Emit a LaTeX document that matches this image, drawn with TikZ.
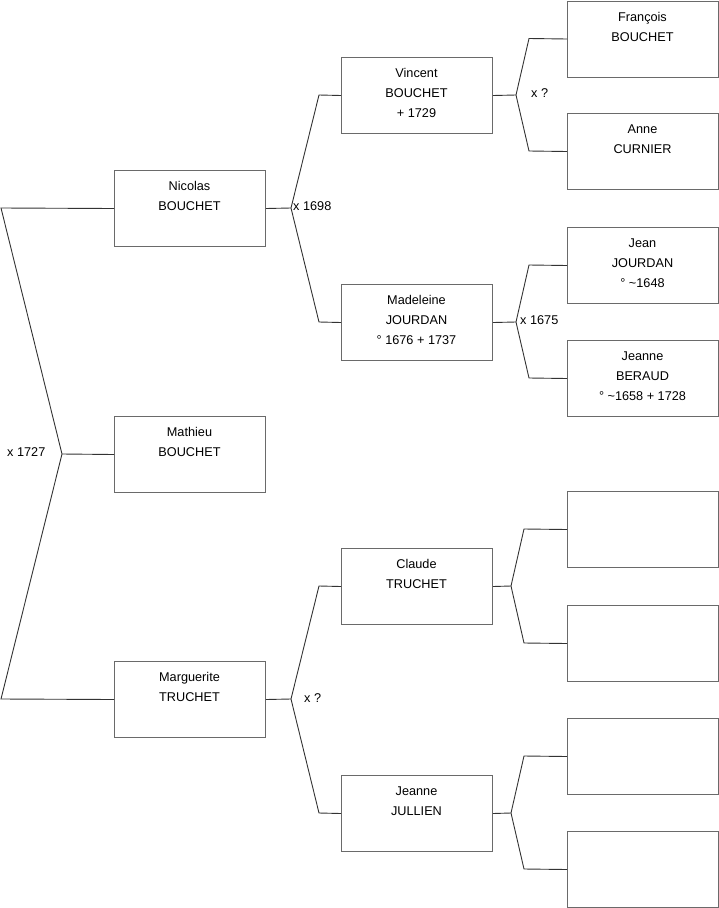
\documentclass[tikz,border=0pt]{standalone}
\usepackage{fontspec}
\setmainfont{Liberation Sans}
\definecolor{boxline}{HTML}{6A6A6A}
\definecolor{conline}{HTML}{333333}
\tikzset{
  pbox/.style={draw=boxline, line width=1pt, minimum width=151pt, minimum height=76pt, inner sep=0pt, anchor=north west, fill=white},
  ptxt/.style={anchor=base, inner sep=0pt, font=\fontsize{12.7}{15}\selectfont},
  mlabel/.style={anchor=base west, inner sep=0pt, font=\fontsize{12.7}{15}\selectfont},
  con/.style={draw=conline, line width=0.9pt}
}
\newcommand\person[6]{%
  \node[pbox] (#1) at (#2,#3) {};
  \node[ptxt] at ({#2+75.5},{#3+20.5}) {#4};
  \node[ptxt] at ({#2+75.5},{#3+40.5}) {#5};
  \node[ptxt] at ({#2+75.5},{#3+60.5}) {#6};
}
\begin{document}
\begin{tikzpicture}[x=1pt,y=-1pt]
\useasboundingbox (0,0) rectangle (719,908);
% generation 1
\person{nicolas}{114}{170}{Nicolas}{BOUCHET}{}
\person{mathieu}{114}{416}{Mathieu}{BOUCHET}{}
\person{marguerite}{114}{661}{Marguerite}{TRUCHET}{}
% generation 2
\person{vincent}{341}{57}{Vincent}{BOUCHET}{+ 1729}
\person{madeleine}{341}{284}{Madeleine}{JOURDAN}{° 1676 + 1737}
\person{claude}{341}{548}{Claude}{TRUCHET}{}
\person{jullien}{341}{775}{Jeanne}{JULLIEN}{}
% generation 3
\person{francois}{567}{0.5}{François}{BOUCHET}{}
\person{anne}{567}{113}{Anne}{CURNIER}{}
\person{jean}{567}{227}{Jean}{JOURDAN}{° \textasciitilde 1648}
\person{beraud}{567}{340}{Jeanne}{BERAUD}{° \textasciitilde 1658 + 1728}
\person{e1}{567}{491}{}{}{}
\person{e2}{567}{605}{}{}{}
\person{e3}{567}{718}{}{}{}
\person{e4}{567}{831}{}{}{}
% junction coordinates
\coordinate (t0) at (1,208);
\coordinate (j0) at (62,454);
\coordinate (b0) at (1,699);
\coordinate (j1) at (291,208);
\coordinate (t1) at (319,95);
\coordinate (b1) at (319,322);
\coordinate (j2) at (291,699);
\coordinate (t2) at (319,586);
\coordinate (b2) at (319,813);
\coordinate (j3) at (516,95);
\coordinate (t3) at (529,38.5);
\coordinate (b3) at (529,151);
\coordinate (j4) at (516,322);
\coordinate (t4) at (529,265);
\coordinate (b4) at (529,378);
\coordinate (j5) at (511,586);
\coordinate (t5) at (524,529);
\coordinate (b5) at (524,643);
\coordinate (j6) at (511,813);
\coordinate (t6) at (524,756);
\coordinate (b6) at (524,869);
% connectors
\draw[con] (nicolas.west) -- (t0) -- (j0) -- (b0) -- (marguerite.west);
\draw[con] (j0) -- (mathieu.west);
\draw[con] (nicolas.east) -- (j1);
\draw[con] (vincent.west) -- (t1) -- (j1) -- (b1) -- (madeleine.west);
\draw[con] (marguerite.east) -- (j2);
\draw[con] (claude.west) -- (t2) -- (j2) -- (b2) -- (jullien.west);
\draw[con] (vincent.east) -- (j3);
\draw[con] (francois.west) -- (t3) -- (j3) -- (b3) -- (anne.west);
\draw[con] (madeleine.east) -- (j4);
\draw[con] (jean.west) -- (t4) -- (j4) -- (b4) -- (beraud.west);
\draw[con] (claude.east) -- (j5);
\draw[con] (e1.west) -- (t5) -- (j5) -- (b5) -- (e2.west);
\draw[con] (jullien.east) -- (j6);
\draw[con] (e3.west) -- (t6) -- (j6) -- (b6) -- (e4.west);
% marriage labels
\node[mlabel] (m0) at (7,456.5) {x 1727};
\node[mlabel] (m1) at (293,210.5) {x 1698};
\node[mlabel] (m2) at (304,702.5) {x ?};
\node[mlabel] (m3) at (531,97) {x ?};
\node[mlabel] (m4) at (520,324.5) {x 1675};
\end{tikzpicture}
\end{document}
